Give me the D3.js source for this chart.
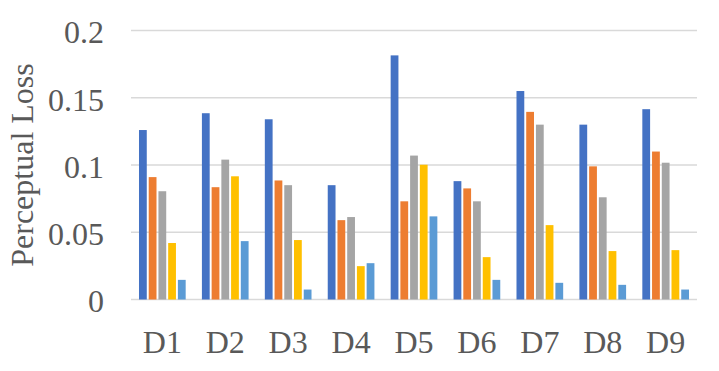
<!DOCTYPE html>
<html>
<head>
<meta charset="utf-8">
<script src="https://cdn.jsdelivr.net/npm/d3@7"></script>
<style>
  body { margin: 0; background: #fff; }
  svg text { font-family: "Liberation Serif", "Times New Roman", serif; fill: #595959; }
</style>
</head>
<body>
<div id="chart"></div>
<script>
// categories and series
const categories = ["D1", "D2", "D3", "D4", "D5", "D6", "D7", "D8", "D9"];
const seriesNames = ["s1", "s2", "s3", "s4", "s5"];
const seriesColors = ["#4472C4", "#ED7D31", "#A5A5A5", "#FFC000", "#5B9BD5"];
const s1 = [0.126, 0.1385, 0.134, 0.085, 0.1815, 0.088, 0.155, 0.13, 0.1415];
const s2 = [0.091, 0.0835, 0.0885, 0.059, 0.073, 0.0826, 0.1395, 0.099, 0.11];
const s3 = [0.0805, 0.104, 0.085, 0.0613, 0.107, 0.073, 0.13, 0.076, 0.1017];
const s4 = [0.042, 0.0916, 0.0442, 0.0248, 0.1002, 0.0315, 0.0553, 0.036, 0.0367];
const s5 = [0.0146, 0.0434, 0.0074, 0.027, 0.0618, 0.0146, 0.0124, 0.0109, 0.0074];
const yTicks = [0, 0.05, 0.1, 0.15, 0.2];
const yTitle = "Perceptual Loss";

const allSeries = [s1, s2, s3, s4, s5];
const width = 719, height = 371;
const margin = {top: 30.5, right: 22, bottom: 71.5, left: 131};

const svg = d3.select("#chart").append("svg")
    .attr("width", width)
    .attr("height", height);

const x0 = d3.scaleBand()
    .domain(categories)
    .range([margin.left, width - margin.right])
    .paddingInner(0.258)
    .paddingOuter(0.127);

const x1 = d3.scaleBand()
    .domain(seriesNames)
    .range([0, x0.bandwidth()])
    .paddingInner(0.2);

const y = d3.scaleLinear()
    .domain([0, 0.2])
    .range([height - margin.bottom, margin.top]);

// gridlines
svg.append("g")
    .selectAll("line")
    .data(yTicks)
    .enter()
    .append("line")
    .attr("x1", margin.left)
    .attr("x2", width - margin.right)
    .attr("y1", d => y(d))
    .attr("y2", d => y(d))
    .attr("stroke", "#d9d9d9")
    .attr("stroke-width", 1.5);

// y tick labels
svg.append("g")
    .selectAll("text")
    .data(yTicks)
    .enter()
    .append("text")
    .attr("x", 104)
    .attr("y", d => y(d))
    .attr("dy", "0.4em")
    .attr("text-anchor", "end")
    .style("font-size", "32px")
    .text(d => d === 0 ? "0" : String(d));

// bars
const groups = svg.append("g")
    .selectAll("g")
    .data(categories)
    .enter()
    .append("g")
    .attr("transform", d => "translate(" + x0(d) + ",0)");

groups.selectAll("rect")
    .data((c, i) => seriesNames.map((s, j) => ({key: s, idx: j, value: allSeries[j][i]})))
    .enter()
    .append("rect")
    .attr("x", d => x1(d.key))
    .attr("width", x1.bandwidth())
    .attr("y", d => y(d.value))
    .attr("height", d => y(0) - y(d.value))
    .attr("fill", d => seriesColors[d.idx]);

// x labels
svg.append("g")
    .selectAll("text")
    .data(categories)
    .enter()
    .append("text")
    .attr("x", d => x0(d) + x0.bandwidth() / 2)
    .attr("y", 353)
    .attr("text-anchor", "middle")
    .style("font-size", "32px")
    .text(d => d);

// y axis title
svg.append("text")
    .attr("transform", "translate(33," + y(0.1) + ") rotate(-90)")
    .attr("text-anchor", "middle")
    .style("font-size", "32px")
    .text(yTitle);
</script>
</body>
</html>
